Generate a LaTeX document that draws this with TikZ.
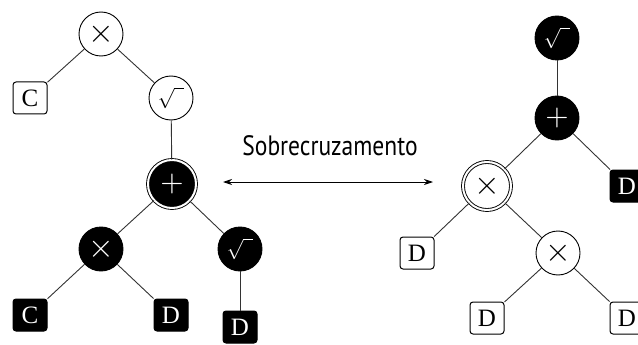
\documentclass[tikz,border=0pt]{standalone}
\usepackage{fontspec}
\usetikzlibrary{arrows.meta}
\newfontfamily\termfont{Liberation Serif}
\newfontfamily\labfont{PT Sans}
\newcommand{\opx}{\scalebox{3.3}{$\times$}}
\newcommand{\opp}{\scalebox{3}{$+$}}
\newcommand{\ops}{\scalebox{2}{$\sqrt{\hphantom{o}}$}}
\tikzset{
  op/.style={circle, draw=black, line width=0.9pt, minimum size=44pt, inner sep=0pt, fill=white},
  opb/.style={op, fill=black, text=white},
  dbl/.style={double=white, double distance=2pt, minimum size=48pt},
  term/.style={rectangle, rounded corners=3pt, draw=black, line width=1pt, minimum width=34pt, minimum height=32pt, inner sep=0pt, fill=white, font=\termfont\fontsize{25}{25}\selectfont},
  termb/.style={term, fill=black, text=white},
  edge/.style={line width=0.9pt, draw=black!80}
}
\begin{document}
\begin{tikzpicture}[x=1pt,y=-1pt]
\useasboundingbox (0,0) rectangle (638,345);
% left tree
\node[op] (l1) at (101,34) {\opx};
\node[term] (lc) at (30,98) {C};
\node[op] (l2) at (171,98) {\ops};
\node[opb,dbl] (l3) at (172,184) {\opp};
\node[opb] (l4) at (101,249) {\opx};
\node[opb] (l5) at (240,249) {\ops};
\node[termb] (lc2) at (30,315) {C};
\node[termb] (ld1) at (171,315) {D};
\node[termb] (ld2) at (240,327) {D};
% right tree
\node[opb] (r1) at (557,38) {\ops};
\node[opb] (r2) at (557,118) {\opp};
\node[termb] (rd1) at (627,186) {D};
\node[op,dbl] (r3) at (487,186) {\opx};
\node[term] (rd2) at (417,253) {D};
\node[op] (r4) at (558,253) {\opx};
\node[term] (rd3) at (487,318) {D};
\node[term] (rd4) at (627,318) {D};
% edges
\draw[edge] (l1) -- (lc);
\draw[edge] (l1) -- (l2);
\draw[edge] (l2) -- (l3);
\draw[edge] (l3) -- (l4);
\draw[edge] (l3) -- (l5);
\draw[edge] (l4) -- (lc2);
\draw[edge] (l4) -- (ld1);
\draw[edge] (l5) -- (ld2);
\draw[edge] (r1) -- (r2);
\draw[edge] (r2) -- (r3);
\draw[edge] (r2) -- (rd1);
\draw[edge] (r3) -- (rd2);
\draw[edge] (r3) -- (r4);
\draw[edge] (r4) -- (rd3);
\draw[edge] (r4) -- (rd4);
% crossover arrow
\coordinate (al) at (223,182);
\coordinate (ar) at (433,182);
\draw[line width=0.9pt, {Stealth[length=9pt,width=6pt]}-{Stealth[length=9pt,width=6pt]}] (al) -- (ar);
\node[font=\labfont\fontsize{28}{28}\selectfont] (lab) at (330,146) {\scalebox{0.84}[1]{Sobrecruzamento}};
\end{tikzpicture}
\end{document}
